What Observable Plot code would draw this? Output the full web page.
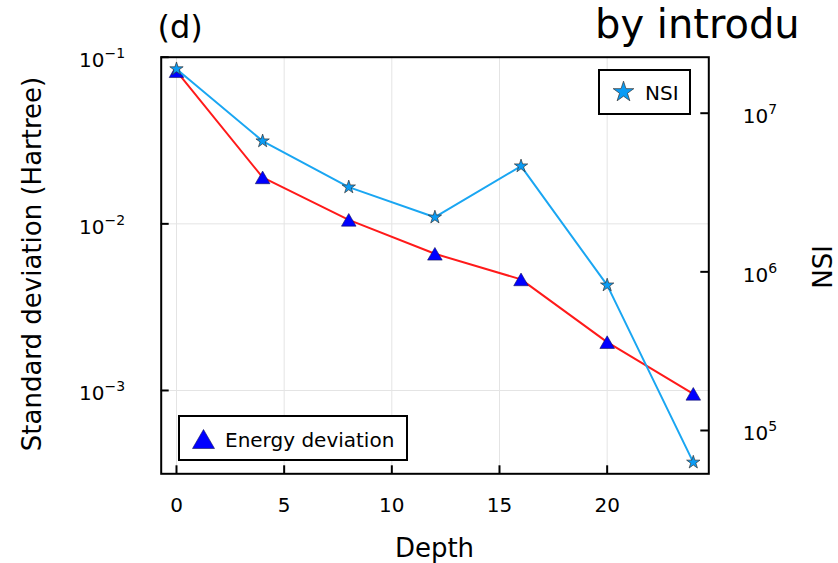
<!DOCTYPE html>
<html>
<head>
<meta charset="utf-8">
<script src="https://cdn.jsdelivr.net/npm/d3@7"></script>
<script src="https://cdn.jsdelivr.net/npm/@observablehq/plot@0.6"></script>
<style>
  html, body { margin: 0; padding: 0; background: #fff; }
  #wrap { position: relative; width: 838px; height: 563px; overflow: hidden; }
  #wrap svg { position: absolute; left: 0; top: 0; }
</style>
</head>
<body>
<div id="wrap"></div>
<script>
// ---- data ----
const depths = [0, 4, 8, 12, 16, 20, 24];
const energyDeviation = [0.0824, 0.0190, 0.01057, 0.00661, 0.00464, 0.00195, 0.000955];
const nsiValues = [1.9e7, 6.67e6, 3.42e6, 2.21e6, 4.64e6, 8.24e5, 6.3e4];
const xTicks = [0, 5, 10, 15, 20];
const leftTicks = [1e-1, 1e-2, 1e-3];
const rightTicks = [1e5, 1e6, 1e7];
const seriesNames = ["Energy deviation", "NSI"];
const panelTag = "(d)";
const headText = "by introdu";
const xLabel = "Depth";
const leftLabel = "Standard deviation (Hartree)";
const rightLabel = "NSI";

const energyData = depths.map((d, i) => ({depth: d, value: energyDeviation[i]}));
const nsiData = depths.map((d, i) => ({depth: d, value: nsiValues[i]}));

// ---- layout ----
const W = 838, H = 563;
const mL = 160.7, mR = 129.7, mT = 56.7, mB = 89.7;
const plotW = W - mL - mR, plotH = H - mT - mB;
const FONT = "DejaVu Sans, Verdana, sans-serif";
const lineRed = "#ff1a1a";
const nsiLine = "#1aa6f2";
const nsiFill = "#0a9cf5";
const triFill = "#0000ff";

const triangle = {
  draw(ctx, size) {
    const r = Math.sqrt(size / Math.PI);
    const h = r * Math.sqrt(3);
    ctx.moveTo(0, -h / 2);
    ctx.lineTo(r, h / 2);
    ctx.lineTo(-r, h / 2);
    ctx.closePath();
  }
};

const logFmt = d => "10^" + Math.round(Math.log10(d));

function supers(svg) {
  d3.select(svg).selectAll("text").each(function() {
    const t = this.textContent;
    const m = t.match(/^10\^(-?\d+)$/);
    if (m) {
      const s = d3.select(this);
      s.text("10");
      s.append("tspan").attr("dy", "-9").attr("font-size", "14px").text(m[1].replace("-", "\u2212"));
    }
  });
}

const xScale = {domain: [-0.71, 24.72]};

const p1 = Plot.plot({
  width: W, height: H,
  marginLeft: mL, marginRight: mR, marginTop: mT, marginBottom: mB,
  style: {fontFamily: FONT, fontSize: "20px", background: "transparent", color: "#000"},
  x: {...xScale, label: null},
  y: {type: "log", domain: [Math.pow(10, -3.5), 0.1], label: null},
  marks: [
    Plot.gridX(xTicks, {stroke: "#e4e4e4", strokeOpacity: 1, strokeWidth: 1}),
    Plot.gridY(leftTicks.slice(1), {stroke: "#e4e4e4", strokeOpacity: 1, strokeWidth: 1}),
    Plot.tickY(leftTicks, {y: d => d, insetRight: plotW - 8, stroke: "#000", strokeWidth: 2}),
    Plot.tickX(xTicks, {x: d => d, insetTop: plotH - 8, stroke: "#000", strokeWidth: 2}),
    Plot.axisY({ticks: leftTicks, anchor: "left", tickSize: 0, tickPadding: 36, tickFormat: logFmt, label: null, fontSize: 20, dy: 3.5}),
    Plot.axisX({ticks: xTicks, anchor: "bottom", tickSize: 0, tickPadding: 24, tickFormat: d => String(d), label: null, fontSize: 20}),
    Plot.line(energyData, {x: "depth", y: "value", stroke: lineRed, strokeWidth: 2}),
    Plot.dot(energyData, {x: "depth", y: "value", symbol: triangle, r: 7.3, fill: triFill, stroke: "#14145a", strokeWidth: 0.6}),
    Plot.frame({stroke: "#000", strokeWidth: 2})
  ]
});

const p2 = Plot.plot({
  width: W, height: H,
  marginLeft: mL, marginRight: mR, marginTop: mT, marginBottom: mB,
  style: {fontFamily: FONT, fontSize: "20px", background: "transparent", color: "#000", overflow: "visible"},
  x: {...xScale, axis: null},
  y: {type: "log", domain: [Math.pow(10, 4.727), Math.pow(10, 7.353)], label: null},
  marks: [
    Plot.tickY(rightTicks, {y: d => d, insetLeft: plotW - 8, stroke: "#000", strokeWidth: 2}),
    Plot.axisY({ticks: rightTicks, anchor: "right", tickSize: 0, tickPadding: 34, tickFormat: logFmt, label: null, fontSize: 20, dy: 3.5}),
    Plot.line(nsiData, {x: "depth", y: "value", stroke: nsiLine, strokeWidth: 2}),
    Plot.dot(nsiData, {x: "depth", y: "value", symbol: "star", r: 4.2, fill: nsiFill, stroke: "#333", strokeWidth: 0.7})
  ]
});

supers(p1); supers(p2);

// ---- decorations: labels, title, legends ----
function addText(sel, x, y, size, txt, anchor, rot) {
  const t = sel.append("text")
    .attr("text-anchor", anchor)
    .attr("font-size", size)
    .attr("font-family", FONT)
    .attr("fill", "#000")
    .text(txt);
  if (rot) t.attr("transform", `translate(${x},${y}) rotate(${rot})`);
  else t.attr("x", x).attr("y", y);
  return t;
}

const s1 = d3.select(p1);
addText(s1, 157.5, 38, 32, panelTag, "start");
addText(s1, 595, 38, 40, headText, "start");
addText(s1, 434.5, 556.5, 26, xLabel, "middle");
addText(s1, 40.5, 264, 26, leftLabel, "middle", -90);
addText(s1, 832, 267, 26, rightLabel, "middle", -90);

// Energy legend (bottom-left)
const lg1 = s1.append("g");
lg1.append("rect").attr("x", 179).attr("y", 416).attr("width", 228).attr("height", 44).attr("fill", "#fff").attr("stroke", "#000").attr("stroke-width", 2);
lg1.append("path").attr("d", d3.line()([[203.5, 429.5], [214.5, 448.5], [192.5, 448.5]]) + "Z").attr("fill", triFill).attr("stroke", "#14145a").attr("stroke-width", 0.6);
addText(lg1, 225, 446.5, 20, seriesNames[0], "start");

// NSI legend (top-right)
const s2 = d3.select(p2);
const lg2 = s2.append("g");
lg2.append("rect").attr("x", 599).attr("y", 70).attr("width", 91).attr("height", 44).attr("fill", "#fff").attr("stroke", "#000").attr("stroke-width", 2);
lg2.append("path").attr("d", d3.symbol(d3.symbolStar, Math.PI * 6.5 * 6.5)()).attr("transform", "translate(623.5,92)").attr("fill", nsiFill).attr("stroke", "#333").attr("stroke-width", 0.7);
addText(lg2, 645, 100, 20, seriesNames[1], "start");

document.getElementById("wrap").append(p1, p2);
</script>
</body>
</html>
